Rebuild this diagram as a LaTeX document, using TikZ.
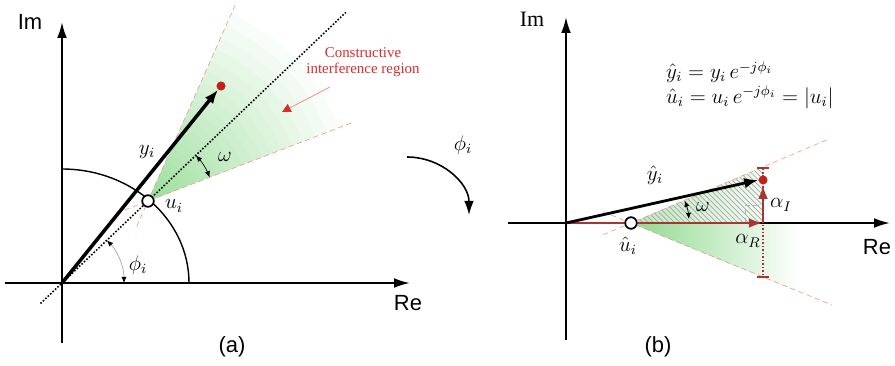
\documentclass[tikz,border=0pt]{standalone}
\usepackage{fontspec}
\setmainfont{Liberation Serif}
\setsansfont{Liberation Sans}
\usetikzlibrary{arrows.meta,calc,patterns}
\definecolor{wedgegreen}{RGB}{105,205,105}
\definecolor{dotred}{RGB}{200,30,25}
\definecolor{arrred}{RGB}{165,55,50}
\definecolor{edgepink}{RGB}{240,150,150}
\definecolor{txtred}{RGB}{215,45,45}
\tikzset{
 axis/.style={line width=1.1pt,-{Latex[length=9pt,width=5.5pt]}},
 axlabel/.style={font=\sffamily\fontsize{12.5}{14}\selectfont},
 mlabel/.style={font=\fontsize{11.5}{13}\selectfont},
 hollow/.style={circle,draw,line width=.9pt,fill=white,minimum size=6.5pt,inner sep=0pt},
 reddot/.style={circle,fill=dotred,minimum size=5pt,inner sep=0pt},
 edgeline/.style={edgepink,densely dashed,line width=.35pt},
 dotline/.style={densely dotted,line width=.9pt},
 anglearc/.style={line width=.4pt,{Latex[length=3.5pt,width=3pt,color=black]}-{Latex[length=3.5pt,width=3pt,color=black]}},
 vecarrow/.style={line width=2pt,-{Latex[length=8pt,width=6pt]}},
 redarrow/.style={arrred,line width=1.6pt,-{Latex[length=8pt,width=5.5pt]}}
}
\begin{document}
\begin{tikzpicture}[x=0.02cm,y=-0.02cm]
\useasboundingbox (0,0) rectangle (895,365);
% (a)
\coordinate (Oa) at (62,283);\node[hollow] (ua) at (148,201) {};\node[reddot] (ya) at (221,86) {};
\foreach \k in {1,...,30}{\pgfmathsetmacro{\d}{205*(\k/30)^2}
  \fill[wedgegreen,opacity=.045] (ua.center) -- ($(ua)+(-66:\d)$) arc[start angle=-66,end angle=-21,radius=\d] -- cycle;}
\draw[edgeline] ($(ua)+(-246:28)$) -- ($(ua)+(-66:215)$);
\draw[edgeline] ($(ua)+(-201:25)$) -- ($(ua)+(-21:218)$);
\draw[line width=.8pt] (189,283) arc[start angle=0,end angle=-90,x radius=127,y radius=114];
\draw[axis] (5,283) -- (410,283);\node[axlabel] at (408,303) {Re};
\draw[axis] (62,343) -- (62,22);\node[axlabel] at (30,22) {Im};
\draw[dotline] ($(Oa)!-0.25!(ua)$) -- ($(Oa)!3.3!(ua)$);
\draw[anglearc,gray!70] ($(Oa)+(-43.5:62)$) arc[start angle=-43.5,end angle=0,radius=62];
\draw[anglearc] ($(ua)+(-43.5:66)$) arc[start angle=-43.5,end angle=-21,radius=66];
\draw[vecarrow] (Oa) -- (ya);
\node[hollow] at (ua) {};\node[reddot] at (ya) {};
\node[mlabel] at (147,152) {$y_i$};\node[mlabel] at (174,206) {$u_i$};
\node[mlabel] at (225,157) {$\omega$};\node[mlabel] at (138,265) {$\phi_i$};
\node[txtred,align=center,font=\fontsize{8.5}{9.2}\selectfont] (cir) at (363,62) {Constructive\\interference region};
\coordinate (ctail) at (330,87);\coordinate (ctip) at (282,112);
\draw[edgepink,line width=.5pt,-{Triangle[length=5pt,width=5pt,color=txtred]}] (ctail) -- (ctip);
\node[axlabel] at (232,347) {(a)};
% rotation
\coordinate (rs) at (407,157);
\draw[line width=.9pt,-{Latex[length=8pt,width=5.5pt]}] (rs) arc[start angle=-90,end angle=0,x radius=62,y radius=58];
\node[mlabel] at (463,145) {$\phi_i$};
% (b)
\coordinate (Ob) at (566,223);\node[hollow] (ub) at (631,223) {};\node[reddot] (yb) at (763,180) {};
\coordinate (aR) at (763,223);\coordinate (atop) at (763,167);\coordinate (abot) at (763,278);
\begin{scope}
\clip (ub.center) -- ($(ub)+(22.5:190)$) -- (800,223) -- cycle;
\shade[left color=wedgegreen!75,right color=white] (631,200) rectangle (800,310);
\end{scope}
\begin{scope}
\clip (ub.center) -- (atop) -- (aR) -- cycle;
\shade[left color=wedgegreen!45,right color=white] (631,160) rectangle (790,225);
\fill[pattern=north west lines,pattern color=gray!70] (631,160) rectangle (763,225);
\end{scope}
\draw[edgeline] ($(ub)+(157:30)$) -- ($(ub)+(-23:214)$);
\draw[edgeline] ($(ub)+(202:30)$) -- ($(ub)+(22.2:217)$);
\draw[gray!60,densely dashed,line width=.4pt] ($(aR)+(-18,0)$) |- ($(aR)+(0,-18)$);
\draw[axis] (508,223) -- (890,223);\node[axlabel] at (877,247) {Re};
\draw[axis] (566,340) -- (566,17);\node[font=\fontsize{12.5}{14}\selectfont] at (532,19) {Im};
\draw[arrred,densely dotted,line width=1pt,{Bar[width=7pt]}-{Bar[width=7pt]}] (atop) -- (abot);
\draw[anglearc] ($(ub)+(-22.5:58)$) arc[start angle=-22.5,end angle=-4,radius=58];
\draw[redarrow] (Ob) -- (aR);
\draw[redarrow] (aR) -- (yb.south);
\draw[vecarrow,line width=1.6pt] (Ob) -- (yb.west);
\node[hollow] at (ub) {};\node[reddot] at (yb) {};
\node[mlabel] at (655,175) {$\hat{y}_i$};\node[mlabel] at (628,246) {$\hat{u}_i$};
\node[mlabel] at (703,207) {$\omega$};\node[mlabel] at (748,241) {$\alpha_R$};\node[mlabel] at (781,205) {$\alpha_I$};
\node[mlabel,anchor=west] at (660,72) {$\hat{y}_i = y_i\,e^{-j\phi_i}$};
\node[mlabel,anchor=west] at (660,97) {$\hat{u}_i = u_i\,e^{-j\phi_i} = |u_i|$};
\node[axlabel] at (658,347) {(b)};
\end{tikzpicture}
\end{document}
